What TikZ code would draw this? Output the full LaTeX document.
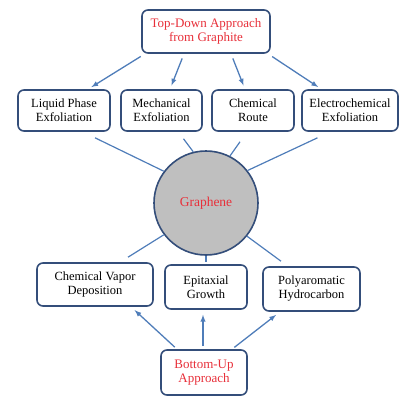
\documentclass[tikz,border=0pt]{standalone}
\usepackage{fontspec}
\setmainfont{Liberation Serif}
\usepackage{tikz}
\usetikzlibrary{fit,positioning}
\usetikzlibrary{shapes,arrows}

\definecolor{boxblue}{RGB}{52,78,122}
\definecolor{arrowblue}{RGB}{79,125,185}
\definecolor{titlered}{RGB}{232,48,58}
\definecolor{circgray}{RGB}{191,191,191}

\begin{document}
\begin{tikzpicture}[x=1pt,y=-1pt]
\tikzstyle{method}=[rectangle, rounded corners=6pt, line width=1.6pt, draw=boxblue, fill=white, align=center, font=\fontsize{12.5}{14}\selectfont, inner sep=2pt]
\tikzstyle{route}=[method, text=titlered, font=\fontsize{13}{14.5}\selectfont]
\tikzstyle{core}=[circle, minimum size=104pt, line width=1.6pt, draw=boxblue, fill=circgray, text=titlered, font=\fontsize{13.5}{15}\selectfont]
\tikzstyle{connect}=[-latex, line width=1.3pt, color=arrowblue]
\tikzstyle{link}=[line width=1.2pt, color=arrowblue]
\useasboundingbox (0,0) rectangle (401,399);
	\node[route, minimum width=128pt, minimum height=43pt] (topdown) at (206,31.5) {Top-Down Approach\\from Graphite};
	\node[method, minimum width=92pt, minimum height=41pt] (liquid) at (64,110.5) {Liquid Phase\\Exfoliation};
	\node[method, minimum width=81pt, minimum height=41pt] (mech) at (161.5,110.5) {Mechanical\\Exfoliation};
	\node[method, minimum width=82pt, minimum height=41pt] (chem) at (253,110.5) {Chemical\\Route};
	\node[method, minimum width=96pt, minimum height=41pt] (electro) at (350,110.5) {Electrochemical\\Exfoliation};
	\node[core] (graphene) at (206,203) {Graphene};
	\node[method, minimum width=116pt, minimum height=43pt] (cvd) at (95,284.5) {Chemical Vapor\\Deposition};
	\node[method, minimum width=82pt, minimum height=44pt] (epi) at (206,287) {Epitaxial\\Growth};
	\node[method, minimum width=97pt, minimum height=44pt] (poly) at (311.5,289) {Polyaromatic\\Hydrocarbon};
	\node[route, minimum width=86pt, minimum height=45pt] (bottomup) at (204,372.5) {Bottom-Up\\Approach};
	
	
	\path[shorten <=5pt, shorten >=4pt]
		([xshift=-61pt]topdown.south) edge [connect] ([xshift=24pt]liquid.north)
		([xshift=-22pt]topdown.south) edge [connect] ([xshift=8.5pt]mech.north)
		([xshift=25pt]topdown.south) edge [connect] ([xshift=-8pt]chem.north)
		([xshift=62pt]topdown.south) edge [connect] ([xshift=-28.5pt]electro.north);
	\path
		([xshift=31pt,yshift=-6pt]liquid.south) edge [link] (graphene.143)
		([xshift=22pt,yshift=-7pt]mech.south) edge [link] (graphene.104)
		([xshift=-13pt,yshift=-10pt]chem.south) edge [link] (graphene.63)
		([xshift=-32.5pt,yshift=-6pt]electro.south) edge [link] (graphene.38)
		(graphene.217) edge [link] ([xshift=33pt,yshift=5pt]cvd.north)
		(graphene.270) edge [link] ([yshift=2pt]epi.north)
		(graphene.321) edge [link] ([xshift=-30.5pt,yshift=5pt]poly.north);
	\path[shorten <=3pt, shorten >=5pt]
		([xshift=-27pt]bottomup.north) edge [connect] ([xshift=36pt]cvd.south)
		([xshift=-1pt]bottomup.north) edge [connect] ([xshift=-3pt]epi.south)
		([xshift=28pt]bottomup.north) edge [connect] ([xshift=-31.5pt]poly.south);
		
\end{tikzpicture}
\end{document}
